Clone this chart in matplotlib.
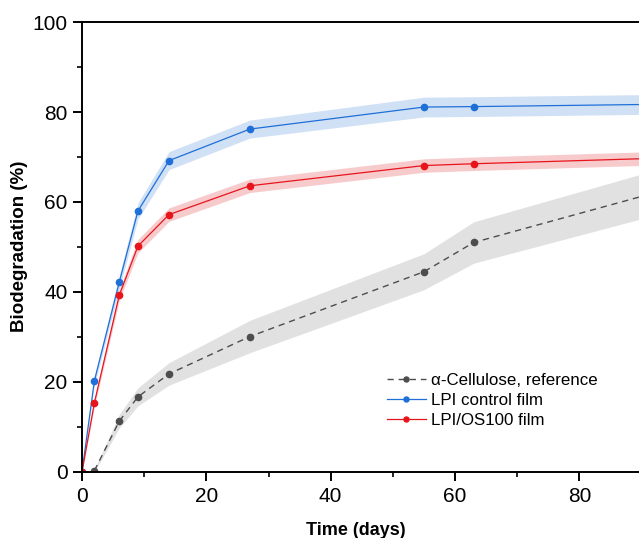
import matplotlib.pyplot as plt
import numpy as np

plt.rcParams['font.family'] = ['Liberation Sans', 'DejaVu Sans']

# sampling days for each series
days_ref = [2, 6, 9, 14, 27, 55, 63, 92]
days_film = [0, 2, 6, 9, 14, 27, 55, 63, 92]

# mean biodegradation (%) and spread
cellulose = [0.3, 11.3, 16.7, 21.8, 30.1, 44.5, 51.0, 62.0]
cellulose_err = [0.3, 1.5, 2.0, 2.5, 3.6, 4.0, 4.6, 5.0]

lpi_control = [0.0, 20.3, 42.2, 58.0, 69.2, 76.2, 81.1, 81.2, 81.7]
lpi_control_err = [0.0, 1.0, 1.5, 1.8, 2.0, 2.0, 2.2, 2.2, 2.2]

lpi_os100 = [0.0, 15.4, 39.3, 50.2, 57.2, 63.6, 68.1, 68.5, 69.7]
lpi_os100_err = [0.0, 0.8, 1.2, 1.5, 1.5, 1.5, 1.5, 1.5, 1.5]

labels = ['\u03b1-Cellulose, reference', 'LPI control film', 'LPI/OS100 film']


def main():
    fig = plt.figure(figsize=(6.39, 5.38), dpi=100)
    # axes run past the right edge of the figure
    ax = fig.add_axes([0.1283, 0.1227, 0.973, 0.8364])

    c = np.array(cellulose)
    ce = np.array(cellulose_err)
    b = np.array(lpi_control)
    be = np.array(lpi_control_err)
    r = np.array(lpi_os100)
    re = np.array(lpi_os100_err)

    ax.fill_between(days_ref, c - ce, c + ce, color='#dcdcdc', lw=0, alpha=0.85)
    ax.fill_between(days_film, b - be, b + be, color='#c9dcf4', lw=0, alpha=0.85)
    ax.fill_between(days_film, r - re, r + re, color='#f6c2c4', lw=0, alpha=0.85)

    ax.plot(days_ref, c, color='#4d4d4d', lw=1.0, dashes=(4.5, 3.5),
            marker='o', ms=4.5, label=labels[0])
    ax.plot(days_film, b, color='#1f6fd8', lw=0.9,
            marker='o', ms=4.5, label=labels[1])
    ax.plot(days_film, r, color='#e8141c', lw=0.9,
            marker='o', ms=4.5, label=labels[2])

    ax.set_xlim(0, 100)
    ax.set_ylim(0, 100)
    ax.set_xticks([0, 20, 40, 60, 80])
    ax.set_xticks([10, 30, 50, 70], minor=True)
    ax.set_yticks([0, 20, 40, 60, 80, 100])
    ax.set_yticks([10, 30, 50, 70, 90], minor=True)

    for side in ['left', 'bottom', 'top', 'right']:
        ax.spines[side].set_linewidth(1.4)
    ax.tick_params(which='major', direction='out', length=6.5, width=1.4,
                   labelsize=15, pad=4, top=False, right=False)
    ax.tick_params(which='minor', direction='out', length=3.6, width=1.2,
                   top=False, right=False)

    ax.set_xlabel('Time (days)', fontsize=13, fontweight='bold')
    ax.xaxis.set_label_coords(356 / 639, 1 - 535 / 538, transform=fig.transFigure)
    ax.xaxis.label.set_verticalalignment('baseline')
    ax.set_ylabel('Biodegradation (%)', fontsize=13.5, fontweight='bold')
    ax.yaxis.set_label_coords(28 / 639, 1 - 246 / 538, transform=fig.transFigure)

    ax.legend(loc='upper left', bbox_to_anchor=(387 / 639, 1 - 373 / 538),
              bbox_transform=fig.transFigure, frameon=False, fontsize=12.2,
              borderpad=0, borderaxespad=0, handlelength=2.3,
              handletextpad=0.3, labelspacing=0.3, numpoints=1,
              markerscale=0.8)

    plt.savefig('out.png', dpi=100)


if __name__ == '__main__':
    main()
